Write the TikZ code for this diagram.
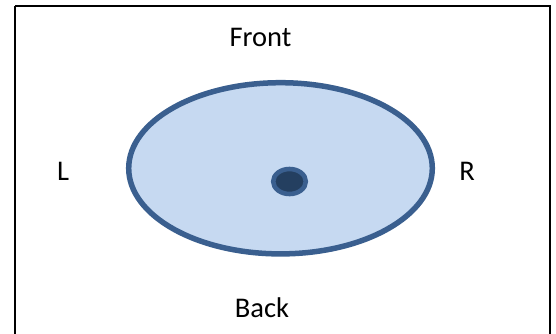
\documentclass[tikz,border=0pt]{standalone}
\usepackage{fontspec}
\setmainfont{Carlito}
\usepackage{xcolor}
\definecolor{rimblue}{HTML}{3A5F8F}
\definecolor{paleblue}{HTML}{C6D9F1}
\definecolor{darkblue}{HTML}{243F60}

\begin{document}
\begin{tikzpicture}[x=1pt, y=-1pt,
  sidelabel/.style={anchor=base, inner sep=0pt, font=\fontsize{28.5}{30}\selectfont}]
  \useasboundingbox (0,0) rectangle (556,334);
  \clip (0,0) rectangle (556,334);
  \draw[line width=2pt, color=black] (15,6.5) -- (550,6.5) -- (550,345) (15,345) -- (15,6.5); % frame
  \draw[line width=5.5pt, color=rimblue, fill=paleblue] (280.5,168.3) ellipse [x radius=151.8pt, y radius=85.6pt]; % body
  \draw[line width=4.6pt, color=rimblue, fill=darkblue] (289.5,181.5) ellipse [x radius=16.3pt, y radius=12.5pt]; % centre dot
  \node[sidelabel] (front) at (260.5,46.7) {Front};
  \node[sidelabel] (back) at (262,317) {Back};
  \node[sidelabel] (left) at (63,180.7) {L};
  \node[sidelabel] (right) at (467,180.5) {R};
\end{tikzpicture}
\end{document}
